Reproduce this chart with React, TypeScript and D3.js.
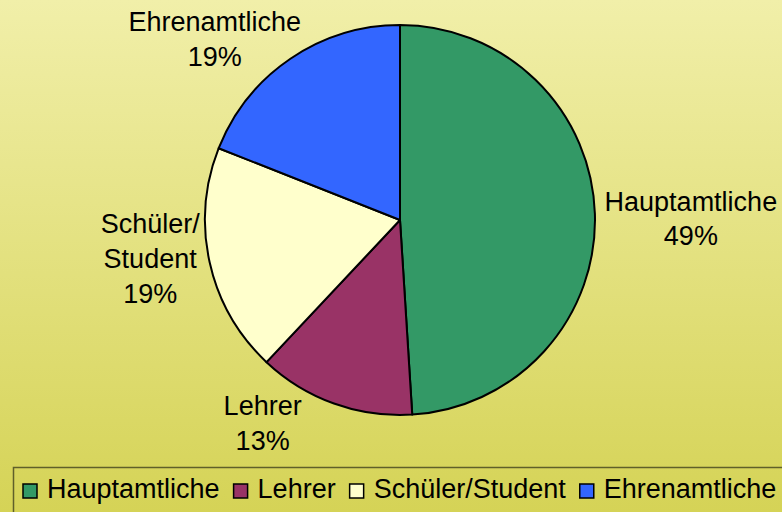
import React, { useEffect, useRef } from 'react';
import * as d3 from 'd3';

const categories = ['Hauptamtliche', 'Lehrer', 'Schüler/Student', 'Ehrenamtliche'];
const values = [49, 13, 19, 19];
const labelLines = [['Hauptamtliche'], ['Lehrer'], ['Schüler/', 'Student'], ['Ehrenamtliche']];
const colors = ['#339966', '#993366', '#FFFFCC', '#3366FF'];

// layout nudges for the outside labels (px), Excel-like placement
const labelNudge: [number, number][] = [[36, 7], [-51, -36], [-1, -17], [-42, 30]];

const W = 782;
const H = 512;

const App: React.FC = () => {
  const svgRef = useRef<SVGSVGElement>(null);

  useEffect(() => {
    if (!svgRef.current) return;
    const svg = d3.select(svgRef.current);
    svg.selectAll('*').remove();

    const defs = svg.append('defs');
    const grad = defs.append('linearGradient')
      .attr('id', 'bg')
      .attr('x1', 0).attr('y1', 0).attr('x2', 0).attr('y2', 1);
    grad.append('stop').attr('offset', '0%').attr('stop-color', '#F1EFA9');
    grad.append('stop').attr('offset', '100%').attr('stop-color', '#D5D356');

    svg.append('rect')
      .attr('width', W).attr('height', H)
      .attr('fill', 'url(#bg)');

    const cx = 400, cy = 220, r = 195;
    const font = '"Liberation Sans", Arial, sans-serif';
    const fontSize = 27;
    const lineH = 35;

    const pie = d3.pie<number>().sort(null).value(d => d);
    const arcs = pie(values);
    const arc = d3.arc<d3.PieArcDatum<number>>().innerRadius(0).outerRadius(r);
    const labelArc = d3.arc<d3.PieArcDatum<number>>().innerRadius(255).outerRadius(255);

    const g = svg.append('g').attr('transform', `translate(${cx},${cy})`);
    g.selectAll('path.slice')
      .data(arcs)
      .enter().append('path')
      .attr('class', 'slice')
      .attr('d', arc)
      .attr('fill', (_, i) => colors[i])
      .attr('stroke', '#000')
      .attr('stroke-width', 2)
      .attr('stroke-linejoin', 'round');

    // labels
    arcs.forEach((a, i) => {
      const [lx, ly] = labelArc.centroid(a);
      const x = lx + labelNudge[i][0];
      const y = ly + labelNudge[i][1];
      const lines = [...labelLines[i], `${values[i]}%`];
      const first = y - ((lines.length - 1) * lineH) / 2 + 9;
      const t = g.append('text')
        .attr('text-anchor', 'middle')
        .attr('font-family', font)
        .attr('font-size', fontSize)
        .attr('fill', '#000');
      lines.forEach((ln, j) => {
        t.append('tspan').attr('x', x).attr('y', first + j * lineH).text(ln);
      });
    });

    // legend
    const leg = svg.append('g');
    leg.append('rect')
      .attr('x', 13.5).attr('y', 467.5)
      .attr('width', 800).attr('height', 60)
      .attr('fill', 'none')
      .attr('stroke', '#5f5f2a')
      .attr('stroke-width', 1.5);

    let x = 23;
    categories.forEach((c, i) => {
      leg.append('rect')
        .attr('x', x).attr('y', 484)
        .attr('width', 14).attr('height', 14)
        .attr('fill', colors[i])
        .attr('stroke', '#000')
        .attr('stroke-width', 1.5);
      const t = leg.append('text')
        .attr('x', x + 24).attr('y', 498)
        .attr('font-family', font)
        .attr('font-size', fontSize)
        .attr('fill', '#000')
        .text(c);
      const len = (t.node() as SVGTextElement).getComputedTextLength();
      x = x + 24 + len + 14;
    });
  }, []);

  return (
    <svg
      ref={svgRef}
      width={W}
      height={H}
      style={{ position: 'absolute', left: 0, top: 0, display: 'block' }}
    />
  );
};

export default App;
